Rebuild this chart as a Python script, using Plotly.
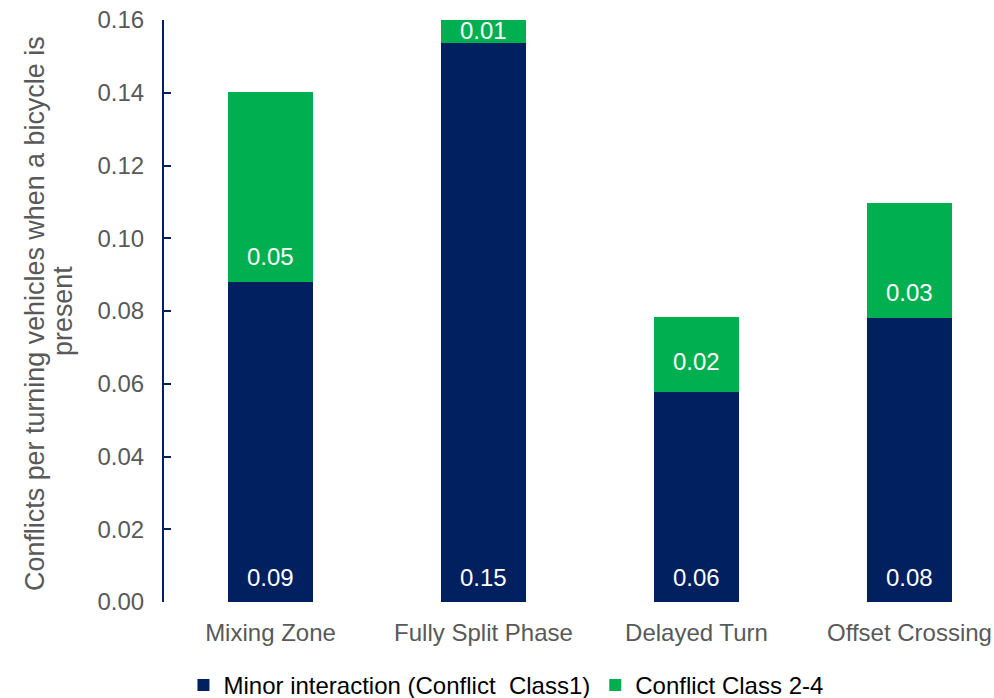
import plotly.graph_objects as go

categories = ["Mixing Zone", "Fully Split Phase", "Delayed Turn", "Offset Crossing"]
minor_values = [0.088, 0.1537, 0.0577, 0.0781]
class24_values = [0.0522, 0.0063, 0.0206, 0.0316]
y_ticks = [0.00, 0.02, 0.04, 0.06, 0.08, 0.10, 0.12, 0.14, 0.16]

BLUE = "#002060"
GREEN = "#00B050"
GRAY = "#595959"
FONT = "Liberation Sans, Arial, sans-serif"

# label offsets (px above each segment's base)
minor_label_shift = [25, 25, 25, 25]
class24_label_shift = [25, 12, 31, 25]

fig = go.Figure()
fig.add_trace(go.Bar(
    x=categories, y=minor_values, name="Minor interaction (Conflict  Class1)",
    marker=dict(color=BLUE, line=dict(width=0)), textposition="none",
))
fig.add_trace(go.Bar(
    x=categories, y=class24_values, name="Conflict Class 2-4",
    marker=dict(color=GREEN, line=dict(width=0)), textposition="none",
))

annotations = []
for cat, m, c, sm, sc in zip(categories, minor_values, class24_values,
                             minor_label_shift, class24_label_shift):
    annotations.append(dict(x=cat, y=0, xref="x", yref="y", text=f"{m:.2f}",
                            showarrow=False, yanchor="middle", yshift=sm,
                            font=dict(color="white", size=24, family=FONT)))
    annotations.append(dict(x=cat, y=m, xref="x", yref="y", text=f"{c:.2f}",
                            showarrow=False, yanchor="middle", yshift=sc,
                            font=dict(color="white", size=24, family=FONT)))

ytitle_font = dict(color=GRAY, size=26.9, family=FONT)
annotations.append(dict(xref="paper", yref="paper", x=-0.1554, y=0.495,
                        xanchor="center", yanchor="middle", textangle=-90,
                        showarrow=False, font=ytitle_font,
                        text="Conflicts per turning vehicles when a bicycle is"))
annotations.append(dict(xref="paper", yref="paper", x=-0.1217, y=0.5,
                        xanchor="center", yanchor="middle", textangle=-90,
                        showarrow=False, font=ytitle_font, text="present"))

fig.update_layout(
    barmode="stack", bargap=0.6,
    width=994, height=698,
    margin=dict(l=164, r=0, t=20, b=96, pad=0, autoexpand=False),
    plot_bgcolor="white", paper_bgcolor="white",
    font=dict(family=FONT, size=24, color=GRAY),
    showlegend=True,
    legend=dict(orientation="h", x=0.412, xanchor="center", y=-0.1045, yanchor="top",
                font=dict(color="black", size=24, family=FONT), traceorder="normal",
                itemwidth=30, bgcolor="rgba(0,0,0,0)"),
    xaxis=dict(range=[-0.5, 3.397], showline=False, ticks="", showgrid=False,
               automargin=False,
               tickfont=dict(color=GRAY, size=24), ticklabelstandoff=14),
    yaxis=dict(range=[0, 0.16], tickvals=y_ticks, tickformat=".2f",
               automargin=False,
               showline=True, linecolor=BLUE, linewidth=2,
               ticks="inside", ticklen=7, tickcolor=BLUE, tickwidth=2,
               showgrid=False, zeroline=False,
               tickfont=dict(color=GRAY, size=24), ticklabelstandoff=13),
    annotations=annotations,
)

fig.write_html("out.html", config={"displayModeBar": False},
               post_script="document.body.style.margin='0';document.body.style.overflow='hidden';")
